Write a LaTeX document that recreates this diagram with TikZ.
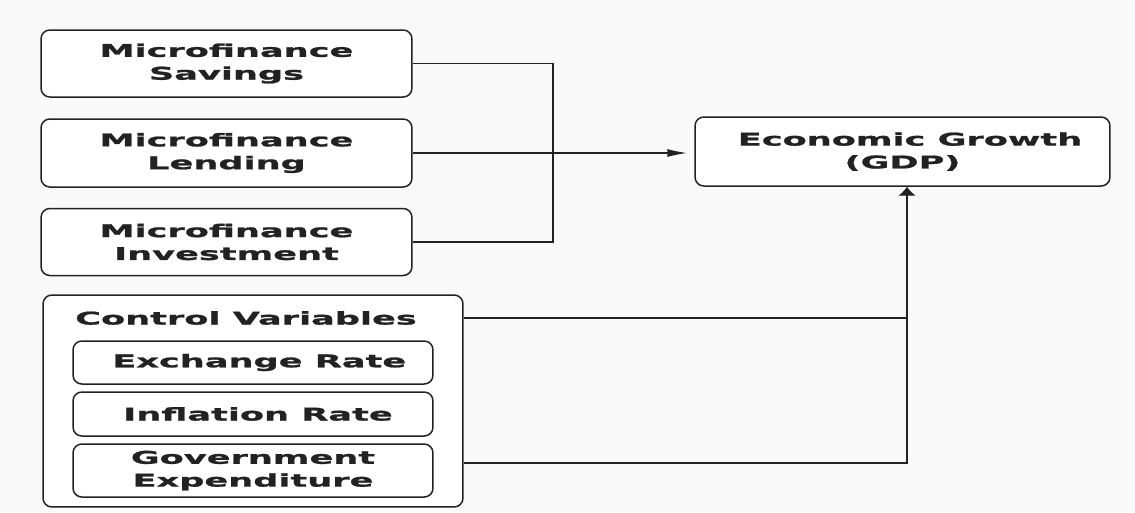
\documentclass[tikz,border=0pt]{standalone}
\usepackage{fontspec}
\newfontfamily\boxfont{DejaVu Sans}[FakeStretch=2.0,FakeBold=1.2]
\usetikzlibrary{positioning,arrows.meta}
\definecolor{inkgray}{HTML}{222222}
\definecolor{paper}{HTML}{F9F9F9}

\begin{document}
\begin{tikzpicture}[x=0.02cm,y=-0.02cm,
  box/.style={draw=inkgray,line width=0.85pt,rounded corners=5pt,fill=white,text=inkgray,
    font=\boxfont\bfseries\fontsize{10}{13}\selectfont,align=center,inner sep=0pt},
  link/.style={draw=inkgray,line width=0.8pt}]
% Background
\fill[paper] (0,0) rectangle (1135,512);
% Microfinance variables
\node[box,minimum width=7.42cm,minimum height=1.34cm] (sav) at (226.5,63.5) {Microfinance\\Savings};
\node[box,minimum width=7.42cm,minimum height=1.36cm] (lend) at (226.5,153) {Microfinance\\Lending};
\node[box,minimum width=7.42cm,minimum height=1.34cm] (inv) at (226.5,242) {Microfinance\\Investment};
% Outcome
\node[box,minimum width=8.3cm,minimum height=1.38cm] (gdp) at (902.5,151.5) {\hspace{0.3cm}Economic Growth\\(GDP)};
% Control variables
\node[box,minimum width=8.4cm,minimum height=4.24cm] (ctrl) at (253,401) {};
\node[box,draw=none,fill=none] (ctrlt) at (246,318) {Control Variables};
\node[box,minimum width=7.2cm,minimum height=0.86cm] (exch) at (253,362.5) {\hspace{0.25cm}Exchange Rate};
\node[box,minimum width=7.2cm,minimum height=0.88cm] (infl) at (253,414) {\hspace{0.2cm}Inflation Rate};
\node[box,minimum width=7.2cm,minimum height=1.06cm] (govt) at (253,470.5) {Government\\Expenditure};
% Connectors
\coordinate (bus) at (553,153);
\coordinate (gdpin) at ([xshift=0.09cm]gdp.south);
\draw[link] (sav.east) -| (bus) |- (inv.east);
\draw[link,-{Latex[length=0.4cm,width=0.16cm]},shorten >=0.14cm] (lend.east) -- (lend.east -| gdp.west);
\draw[link] (ctrlt -| ctrl.east) -- (ctrlt -| gdpin);
\draw[link,-{Latex[length=0.18cm,width=0.36cm]}] ([yshift=0.15cm]govt.center -| ctrl.east) -| (gdpin);
\end{tikzpicture}
\end{document}
